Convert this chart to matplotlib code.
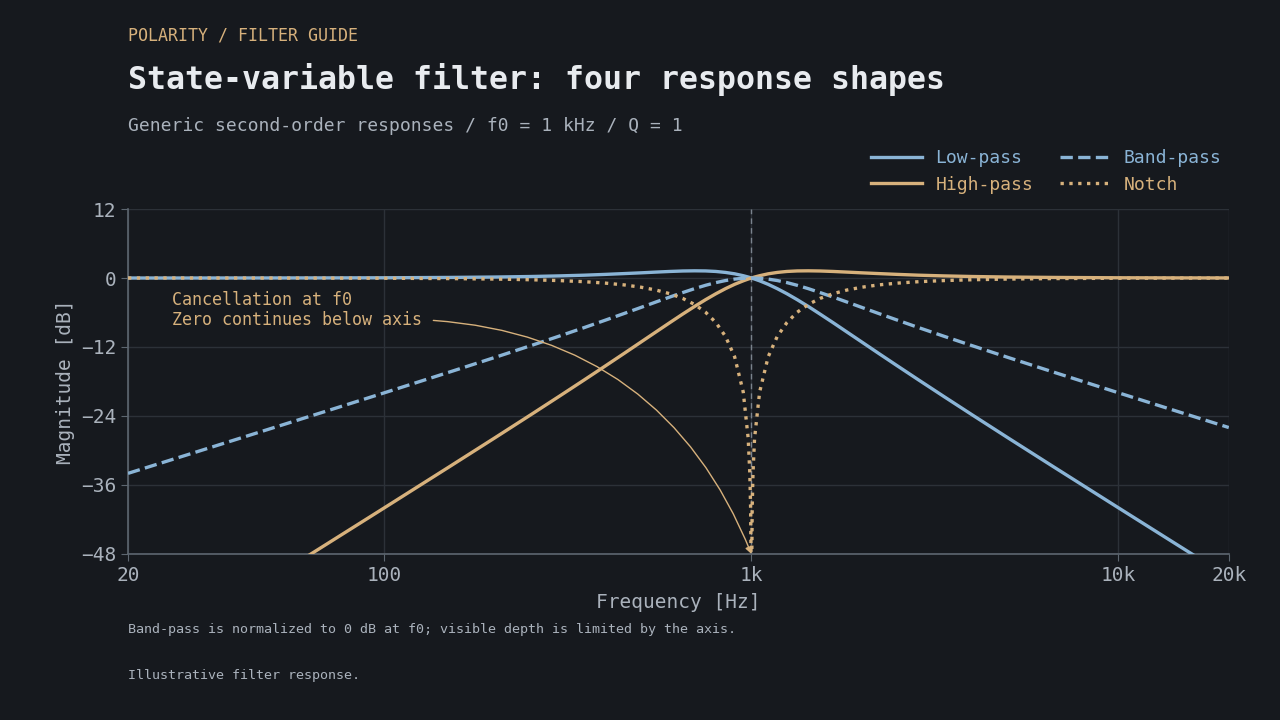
import matplotlib
matplotlib.use("Agg")
import matplotlib.pyplot as plt

# sampled magnitude responses, f0 = 1 kHz, Q = 1 (values in dB)
freq_hz = [20, 30, 50, 70, 100, 150, 200, 250, 300, 350, 400, 450, 500, 550,
           600, 650, 700, 750, 800, 850, 900, 950, 980, 990, 995, 999,
           1001, 1005, 1010, 1020, 1053, 1111, 1176, 1250, 1333, 1429, 1538,
           1667, 1818, 2000, 2222, 2500, 2857, 3333, 4000, 5000, 6667, 10000,
           14286, 20000]

lowpass_db = [0.00, 0.00, 0.01, 0.02, 0.04, 0.10, 0.17, 0.26, 0.37, 0.49, 0.63,
              0.77, 0.90, 1.03, 1.14, 1.22, 1.25, 1.23, 1.14, 0.97, 0.73, 0.40,
              0.17, 0.09, 0.04, 0.01,
              -0.01, -0.04, -0.09, -0.18, -0.49, -1.10, -1.85, -2.74, -3.77,
              -4.95, -6.27, -7.74, -9.36, -11.14, -13.11, -15.29, -17.74,
              -20.54, -23.82, -27.79, -32.86, -39.96, -46.18, -52.03]

highpass_db = [-67.96, -60.91, -52.03, -46.18, -39.96, -32.86, -27.79, -23.82,
               -20.54, -17.74, -15.29, -13.11, -11.14, -9.36, -7.74, -6.27,
               -4.95, -3.77, -2.74, -1.85, -1.10, -0.49, -0.18, -0.09, -0.04,
               -0.01,
               0.01, 0.04, 0.09, 0.17, 0.40, 0.73, 0.97, 1.14, 1.23, 1.25, 1.22,
               1.14, 1.03, 0.90, 0.77, 0.63, 0.49, 0.37, 0.26, 0.17, 0.10, 0.04,
               0.02, 0.01]

bandpass_db = [-33.98, -30.46, -26.01, -23.08, -19.96, -16.38, -13.81, -11.78,
               -10.09, -8.63, -7.33, -6.17, -5.12, -4.16, -3.30, -2.53, -1.85,
               -1.27, -0.80, -0.44, -0.19, -0.05, -0.01, 0.00, 0.00, 0.00,
               0.00, 0.00, 0.00, -0.01, -0.05, -0.19, -0.44, -0.80, -1.27,
               -1.85, -2.53, -3.30, -4.16, -5.12, -6.17, -7.33, -8.63, -10.09,
               -11.78, -13.81, -16.38, -19.96, -23.08, -26.01]

notch_db = [0.00, 0.00, -0.01, -0.02, -0.04, -0.10, -0.18, -0.30, -0.45, -0.64,
            -0.89, -1.20, -1.60, -2.10, -2.74, -3.55, -4.60, -5.95, -7.74,
            -10.16, -13.70, -19.82, -27.88, -33.93, -39.98, -53.98,
            -53.98, -39.98, -33.93, -27.88, -19.82, -13.70, -10.16, -7.74,
            -5.95, -4.60, -3.55, -2.74, -2.10, -1.60, -1.20, -0.89, -0.64,
            -0.45, -0.30, -0.18, -0.10, -0.04, -0.02, -0.01]

x_ticks = [20, 100, 1000, 10000, 20000]
x_tick_labels = ["20", "100", "1k", "10k", "20k"]
y_ticks = [-48, -36, -24, -12, 0, 12]

BG = "#16191e"
BLUE = "#8ab4d6"
TAN = "#d7b17c"
TEXT = "#aab2bc"
GRID = "#2c3138"
SPINE = "#5d6670"

plt.rcParams["font.family"] = ["DejaVu Sans Mono"]

fig = plt.figure(figsize=(12.8, 7.2), dpi=100, facecolor=BG)
ax = fig.add_axes([0.1, 0.2306, 0.86, 0.4791])
ax.set_facecolor(BG)

ax.plot(freq_hz, lowpass_db, color=BLUE, lw=2.4, label="Low-pass", zorder=3)
ax.plot(freq_hz, highpass_db, color=TAN, lw=2.4, label="High-pass", zorder=3)
ax.plot(freq_hz, bandpass_db, color=BLUE, lw=2.4, ls="--", label="Band-pass", zorder=3)
ax.plot(freq_hz, notch_db, color=TAN, lw=2.4, ls=":", label="Notch", zorder=4)

ax.axvline(1000, color="#7a838d", lw=1, ls=(0, (4, 3)), zorder=2)

ax.set_xscale("log")
ax.set_xlim(20, 20000)
ax.set_ylim(-48, 12)
ax.set_xticks(x_ticks)
ax.set_xticklabels(x_tick_labels)
ax.xaxis.set_minor_locator(matplotlib.ticker.NullLocator())
ax.set_yticks(y_ticks)

ax.grid(True, color=GRID, lw=1)
ax.set_axisbelow(True)
for side in ["top", "right"]:
    ax.spines[side].set_visible(False)
for side in ["left", "bottom"]:
    ax.spines[side].set_color(SPINE)
    ax.spines[side].set_linewidth(1.2)
ax.tick_params(colors=TEXT, labelsize=14, length=5, color=SPINE)

ax.set_xlabel("Frequency [Hz]", color=TEXT, fontsize=14, labelpad=6)
ax.set_ylabel("Magnitude [dB]", color=TEXT, fontsize=14, labelpad=4)

ax.annotate("Cancellation at f0\nZero continues below axis",
            xy=(1000, -48), xytext=(26.4, -2.2), textcoords="data",
            ha="left", va="top", color=TAN, fontsize=12, linespacing=1.2,
            arrowprops=dict(arrowstyle="-|>", color=TAN, lw=1,
                            connectionstyle="arc3,rad=-0.32",
                            relpos=(1.0, 0.25), shrinkA=6, shrinkB=0,
                            mutation_scale=10),
            zorder=5)

# legend order: Low-pass, Band-pass / High-pass, Notch (column-major fill)
lines = ax.get_lines()
order = [lines[0], lines[1], lines[2], lines[3]]
leg = fig.legend(handles=order, ncol=2, loc="upper right",
                 bbox_to_anchor=(0.967, 0.815), frameon=False, fontsize=13,
                 handlelength=2.8, handletextpad=0.75, columnspacing=1.45,
                 labelspacing=0.45)
for text, line in zip(leg.get_texts(), order):
    text.set_color(line.get_color())

fig.text(0.1, 0.963, "POLARITY / FILTER GUIDE", color=TAN, fontsize=12,
         ha="left", va="top")
fig.text(0.1, 0.913, "State-variable filter: four response shapes",
         color="#e8ebef", fontsize=22.7, fontweight="bold", ha="left", va="top")
fig.text(0.1, 0.838, "Generic second-order responses / f0 = 1 kHz / Q = 1",
         color=TEXT, fontsize=13, ha="left", va="top")
fig.text(0.1, 0.135,
         "Band-pass is normalized to 0 dB at f0; visible depth is limited by the axis.",
         color=TEXT, fontsize=9.6, ha="left", va="top")
fig.text(0.1, 0.071, "Illustrative filter response.", color=TEXT, fontsize=9.6,
         ha="left", va="top")

fig.savefig("out.png", dpi=100, facecolor=BG)
